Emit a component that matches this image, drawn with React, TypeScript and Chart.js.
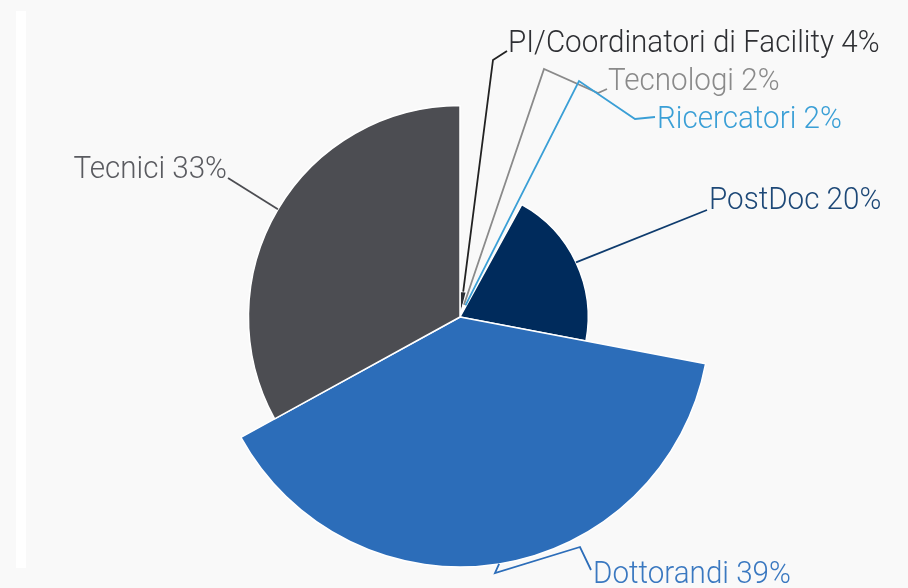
import React, { useEffect, useRef } from "react";
import { Chart, registerables } from "chart.js";

Chart.register(...registerables);

// ---- data ----
const categories = [
  "PI/Coordinatori di Facility",
  "Tecnologi",
  "Ricercatori",
  "PostDoc",
  "Dottorandi",
  "Tecnici",
];
const percentages = [4, 2, 2, 20, 39, 33];
const sliceColors = ["#2b2e33", "#8c8c8c", "#3a9fd6", "#002b5c", "#2c6db9", "#4c4d52"];
const lineColors = ["#222222", "#8a8a8a", "#3a9fd6", "#0f3c6e", "#2c6db9", "#4c4d52"];
const textColors = ["#2e2f33", "#8a8a8a", "#3a9fd6", "#1d4877", "#3a78c0", "#5a5b60"];

// label layout (offsets from the chart centre, in px) - styling only
const labelLayout = [
  { bends: [[33, -257]], end: [47, -266], text: [48, -265], align: "left" },
  { bends: [[84, -248], [138, -224]], end: [147, -228], text: [148, -227], align: "left" },
  { bends: [[119, -236], [175, -198]], end: [195, -200], text: [197, -189], align: "left" },
  { bends: [], end: [247, -107], text: [249, -108], align: "left" },
  { bends: [[35, 256], [120, 230]], end: [131, 253], text: [133, 266], align: "left" },
  { bends: [], end: [-232, -139], text: [-233, -139], align: "right" },
];

const TEXT_SCALE_X = 0.925;

const labelPlugin = {
  id: "leaderLabels",
  afterDatasetsDraw(chart: any) {
    const ctx = chart.ctx;
    const meta = chart.getDatasetMeta(0);
    meta.data.forEach((arc: any, i: number) => {
      const { x, y, startAngle, endAngle, outerRadius } = arc.getProps(
        ["x", "y", "startAngle", "endAngle", "outerRadius"],
        true
      );
      const mid = (startAngle + endAngle) / 2;
      const sx = x + Math.cos(mid) * outerRadius;
      const sy = y + Math.sin(mid) * outerRadius;
      const lay = labelLayout[i];
      ctx.save();
      ctx.strokeStyle = lineColors[i];
      ctx.lineWidth = 1.8;
      ctx.lineJoin = "miter";
      ctx.beginPath();
      ctx.moveTo(sx, sy);
      lay.bends.forEach((p: number[]) => ctx.lineTo(x + p[0], y + p[1]));
      ctx.lineTo(x + lay.end[0], y + lay.end[1]);
      ctx.stroke();

      ctx.translate(x + lay.text[0], y + lay.text[1]);
      ctx.scale(TEXT_SCALE_X, 1);
      ctx.font = "300 32px Roboto, 'Noto Sans', sans-serif";
      ctx.fillStyle = textColors[i];
      ctx.textAlign = lay.align;
      ctx.textBaseline = "alphabetic";
      ctx.fillText(`${categories[i]} ${percentages[i]}%`, 0, 0);
      ctx.restore();
    });
  },
};

export default function App() {
  const ref = useRef<HTMLCanvasElement | null>(null);

  useEffect(() => {
    if (!ref.current) return;
    const chart = new Chart(ref.current, {
      type: "polarArea",
      data: {
        labels: categories,
        datasets: [
          {
            data: percentages,
            backgroundColor: sliceColors,
            borderColor: "#ffffff",
            borderWidth: 1.5,
            angle: (c: any) => percentages[c.dataIndex] * 3.6,
          } as any,
        ],
      },
      options: {
        animation: false,
        responsive: false,
        layout: { padding: { left: 210, right: 198, top: 67, bottom: 21 } },
        plugins: {
          legend: { display: false },
          tooltip: { enabled: false },
        },
        scales: {
          r: {
            display: false,
            min: 0,
            max: 39,
            startAngle: 0,
          },
        },
      } as any,
      plugins: [labelPlugin],
    });
    return () => chart.destroy();
  }, []);

  return (
    <div
      style={{
        position: "absolute",
        left: 0,
        top: 0,
        width: 908,
        height: 588,
        background: "#f9f9f9",
        overflow: "hidden",
      }}
    >
      <div
        style={{
          position: "absolute",
          left: 16,
          top: 11,
          width: 10,
          height: 557,
          background: "#ffffff",
        }}
      />
      <canvas
        ref={ref}
        width={908}
        height={588}
        style={{ position: "absolute", left: 0, top: 0, display: "block" }}
      />
    </div>
  );
}
